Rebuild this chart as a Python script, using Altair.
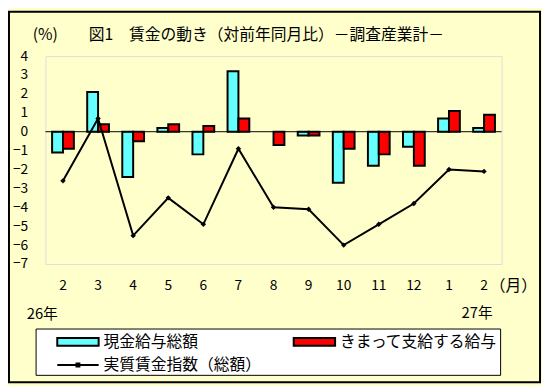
import json
import altair as alt
import pandas as pd

# ---- data ----
months = ["2", "3", "4", "5", "6", "7", "8", "9", "10", "11", "12", "1", "2"]
series_names = ["現金給与総額", "きまって支給する給与"]
cash_total = [-1.1, 2.1, -2.4, 0.2, -1.2, 3.2, 0.0, -0.2, -2.7, -1.8, -0.8, 0.7, 0.2]
regular_pay = [-0.9, 0.4, -0.5, 0.4, 0.3, 0.7, -0.7, -0.2, -0.9, -1.2, -1.8, 1.1, 0.9]
line_name = "実質賃金指数（総額）"
real_wage = [-2.6, 0.7, -5.5, -3.5, -4.9, -0.9, -4.0, -4.1, -6.0, -4.9, -3.8, -2.0, -2.1]
y_ticks = [-7, -6, -5, -4, -3, -2, -1, 0, 1, 2, 3, 4]

title_text = "図1　賃金の動き（対前年同月比）－調査産業計－"
unit_text = "(%)"
month_unit = "（月）"
year_start = "26年"
year_end = "27年"

FONT = "Noto Sans CJK JP"
CYAN = "#66FFFF"
RED = "#FF0000"
BG = "#FFFFCC"

bars = pd.DataFrame(
    [{"idx": i, "series": series_names[0], "value": v} for i, v in enumerate(cash_total)]
    + [{"idx": i, "series": series_names[1], "value": v} for i, v in enumerate(regular_pay)]
)
line = pd.DataFrame({"idx": list(range(len(real_wage))), "value": real_wage, "name": line_name})
one = pd.DataFrame({"k": [0]})

label_expr = json.dumps(months) + "[datum.value]"

x_axis = alt.Axis(
    labelExpr=label_expr, labelAngle=0, ticks=False, domain=False, grid=False,
    labelPadding=15, labelFontSize=14, labelFont=FONT, labelColor="black", title=None,
    labelOverlap=False,
)
x_scale = alt.Scale(paddingInner=0.38, paddingOuter=0.19)
y_scale = alt.Scale(domain=[-7, 4], nice=False, zero=False)
y_axis = alt.Axis(
    values=y_ticks, ticks=False, domain=False, grid=False, labelPadding=18,
    labelFontSize=14, labelFont=FONT, labelColor="black", title=None,
    labelOverlap=False, labelFlush=False, labelBound=False,
)

bar_symbol = "M-1,-0.19L1,-0.19L1,0.19L-1,0.19Z"
line_symbol = "M-1,0L1,0M-0.07,-0.07L0.07,-0.07L0.07,0.07L-0.07,0.07Z"

frame = alt.Chart(one).mark_rect(fill="transparent", stroke="black", strokeWidth=2).encode(
    x=alt.value(-37), x2=alt.value(502), y=alt.value(-45), y2=alt.value(331)
)
legend_box = alt.Chart(one).mark_rect(fill="white", stroke="black", strokeWidth=1).encode(
    x=alt.value(-9.5), x2=alt.value(462), y=alt.value(277), y2=alt.value(324)
)

bar_layer = alt.Chart(bars).mark_bar(stroke="black", strokeWidth=2).encode(
    x=alt.X("idx:O", scale=x_scale, axis=x_axis),
    xOffset=alt.XOffset("series:N", sort=series_names, scale=alt.Scale(paddingInner=0, paddingOuter=0)),
    y=alt.Y("value:Q", scale=y_scale, axis=y_axis),
    strokeOpacity=alt.condition("datum.value == 0", alt.value(0), alt.value(1)),
    fill=alt.Fill(
        "series:N",
        scale=alt.Scale(domain=series_names, range=[CYAN, RED]),
        legend=alt.Legend(
            orient="none", legendX=11, legendY=268, columns=2, columnPadding=92,
            symbolType=bar_symbol, symbolSize=1764, symbolStrokeColor="black",
            symbolStrokeWidth=2, symbolOpacity=1, labelFontSize=16, labelFont=FONT,
            labelColor="black", labelOffset=4, title=None, padding=0, labelLimit=300,
        ),
    ),
)

zero_rule = alt.Chart(pd.DataFrame({"z": [0]})).mark_rule(color="black", strokeWidth=1).encode(
    y=alt.Y("z:Q", scale=y_scale, axis=y_axis)
)

line_layer = alt.Chart(line).mark_line(strokeWidth=2).encode(
    x=alt.X("idx:O", scale=x_scale, axis=x_axis),
    y=alt.Y("value:Q", scale=y_scale, axis=y_axis),
    stroke=alt.Stroke(
        "name:N",
        scale=alt.Scale(domain=[line_name], range=["black"]),
        legend=alt.Legend(
            orient="none", legendX=11, legendY=291.5,
            symbolType=line_symbol, symbolSize=1764, symbolStrokeWidth=2,
            labelFontSize=16, labelFont=FONT, labelColor="black", labelOffset=4,
            title=None, padding=0, labelLimit=300,
        ),
    ),
)
point_layer = alt.Chart(line).mark_point(
    shape="diamond", filled=True, color="black", size=30, opacity=1
).encode(
    x=alt.X("idx:O", scale=x_scale, axis=x_axis),
    y=alt.Y("value:Q", scale=y_scale, axis=y_axis),
)


def label(text, x, y, size=16, align="left"):
    return alt.Chart(one).mark_text(
        text=text, align=align, baseline="middle", fontSize=size, font=FONT, color="black"
    ).encode(x=alt.value(x), y=alt.value(y))


texts = [
    label(unit_text, -13, -21, 16),
    label(title_text, 44, -21, 16),
    label(month_unit, 451, 233, 16),
    label(year_start, -19, 262, 15),
    label(year_end, 454, 261, 15, align="right"),
]

chart = alt.layer(
    frame, legend_box, bar_layer, zero_rule, line_layer, point_layer, *texts
).properties(
    width=463,
    height=211,
    autosize=alt.AutoSizeParams(type="none"),
    padding={"left": 38, "top": 46, "right": 41, "bottom": 121},
    background=BG,
).configure_view(
    fill="white", stroke="black", strokeWidth=1
).configure_axisY(
    labelOverlap=False
).configure(font=FONT)

chart.save("out.html", embed_options={"renderer": "svg", "actions": False})
